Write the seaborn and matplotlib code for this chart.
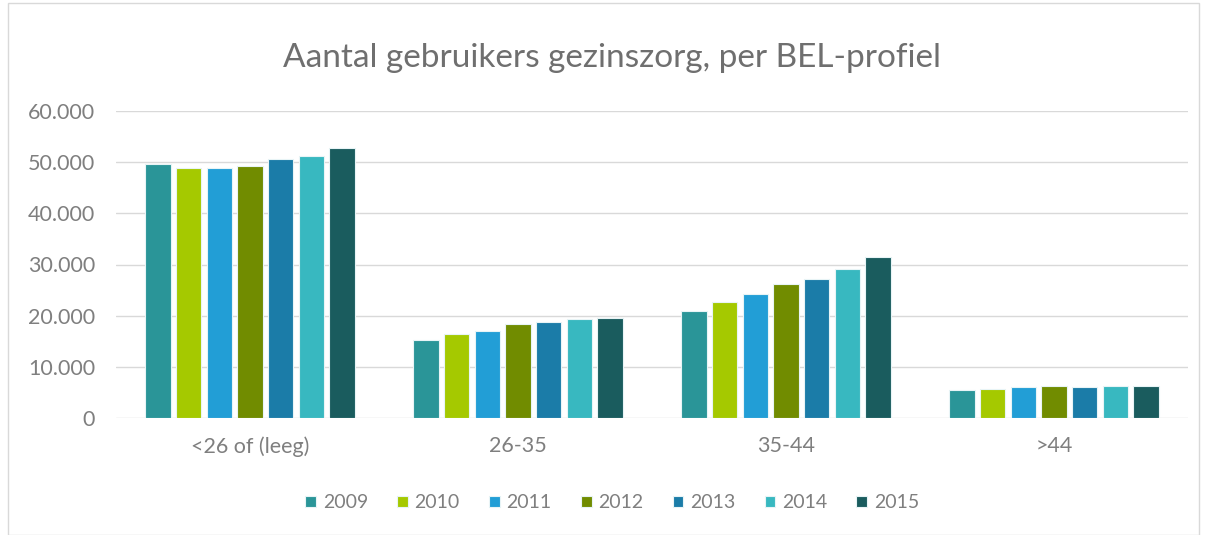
import pandas as pd
import numpy as np
import matplotlib
matplotlib.use("Agg")
import matplotlib.pyplot as plt
import seaborn as sns
from matplotlib.ticker import FuncFormatter
from matplotlib.patches import Rectangle

categories = ['<26 of (leeg)', '26-35', '35-44', '>44']
years = ['2009', '2010', '2011', '2012', '2013', '2014', '2015']
v2009 = [49550, 15200, 21000, 5450]
v2010 = [48950, 16350, 22600, 5650]
v2011 = [48950, 17050, 24150, 6000]
v2012 = [49300, 18350, 26150, 6250]
v2013 = [50550, 18800, 27100, 6000]
v2014 = [51300, 19300, 29050, 6250]
v2015 = [52800, 19550, 31400, 6250]
colors = ['#2A9598', '#A5C900', '#229ED6', '#718C00', '#1B7CA8', '#38B8C0', '#1A5C5E']

series = [v2009, v2010, v2011, v2012, v2013, v2014, v2015]
rows = []
for y, vals in zip(years, series):
    for c, v in zip(categories, vals):
        rows.append({'categorie': c, 'jaar': y, 'aantal': v})
df = pd.DataFrame(rows)

sns.set_style('white')
plt.rcParams['font.family'] = ['Lato', 'DejaVu Sans']
grey = '#7f7f7f'

fig = plt.figure(figsize=(12.05, 5.35), dpi=100)
ax = fig.add_axes([116 / 1205, 1 - 418 / 535, 1072 / 1205, 307 / 535])

sns.barplot(data=df, x='categorie', y='aantal', hue='jaar', palette=colors,
            saturation=1, gap=0.17, width=0.8, edgecolor='#e8f4f6', linewidth=0.8,
            ax=ax, legend=True, zorder=3)

ax.set_ylim(0, 60000)
ax.set_yticks(range(0, 60001, 10000))
ax.yaxis.set_major_formatter(FuncFormatter(lambda v, p: f'{int(v):,}'.replace(',', '.')))
ax.grid(axis='y', color='#d9d9d9', linewidth=1, zorder=0)
ax.grid(axis='x', visible=False)
for s in ax.spines.values():
    s.set_visible(False)
ax.tick_params(axis='both', length=0, labelsize=15.5, labelcolor=grey)
ax.tick_params(axis='y', pad=15)
ax.tick_params(axis='x', pad=13)
ax.set_xlabel('')
ax.set_ylabel('')
ax.set_xlim(-0.5, 3.5)

fig.text(0.508, 1 - 58 / 535, 'Aantal gebruikers gezinszorg, per BEL-profiel',
         ha='center', va='center', fontsize=24, color='#6f6f6f')

handles, labels = ax.get_legend_handles_labels()
ax.legend(handles, labels, loc='center', bbox_to_anchor=(0.508, 1 - 503 / 535),
          bbox_transform=fig.transFigure, ncol=7, frameon=False,
          fontsize=14, labelcolor=grey, handlelength=0.55, handleheight=0.55,
          handletextpad=0.35, columnspacing=1.5)

fig.patches.append(Rectangle((8 / 1205, 0), 1 - 14 / 1205, 1 - 3 / 535,
                             transform=fig.transFigure, fill=False,
                             edgecolor='#d9d9d9', linewidth=1))

fig.savefig('out.png', dpi=100, facecolor='white')
